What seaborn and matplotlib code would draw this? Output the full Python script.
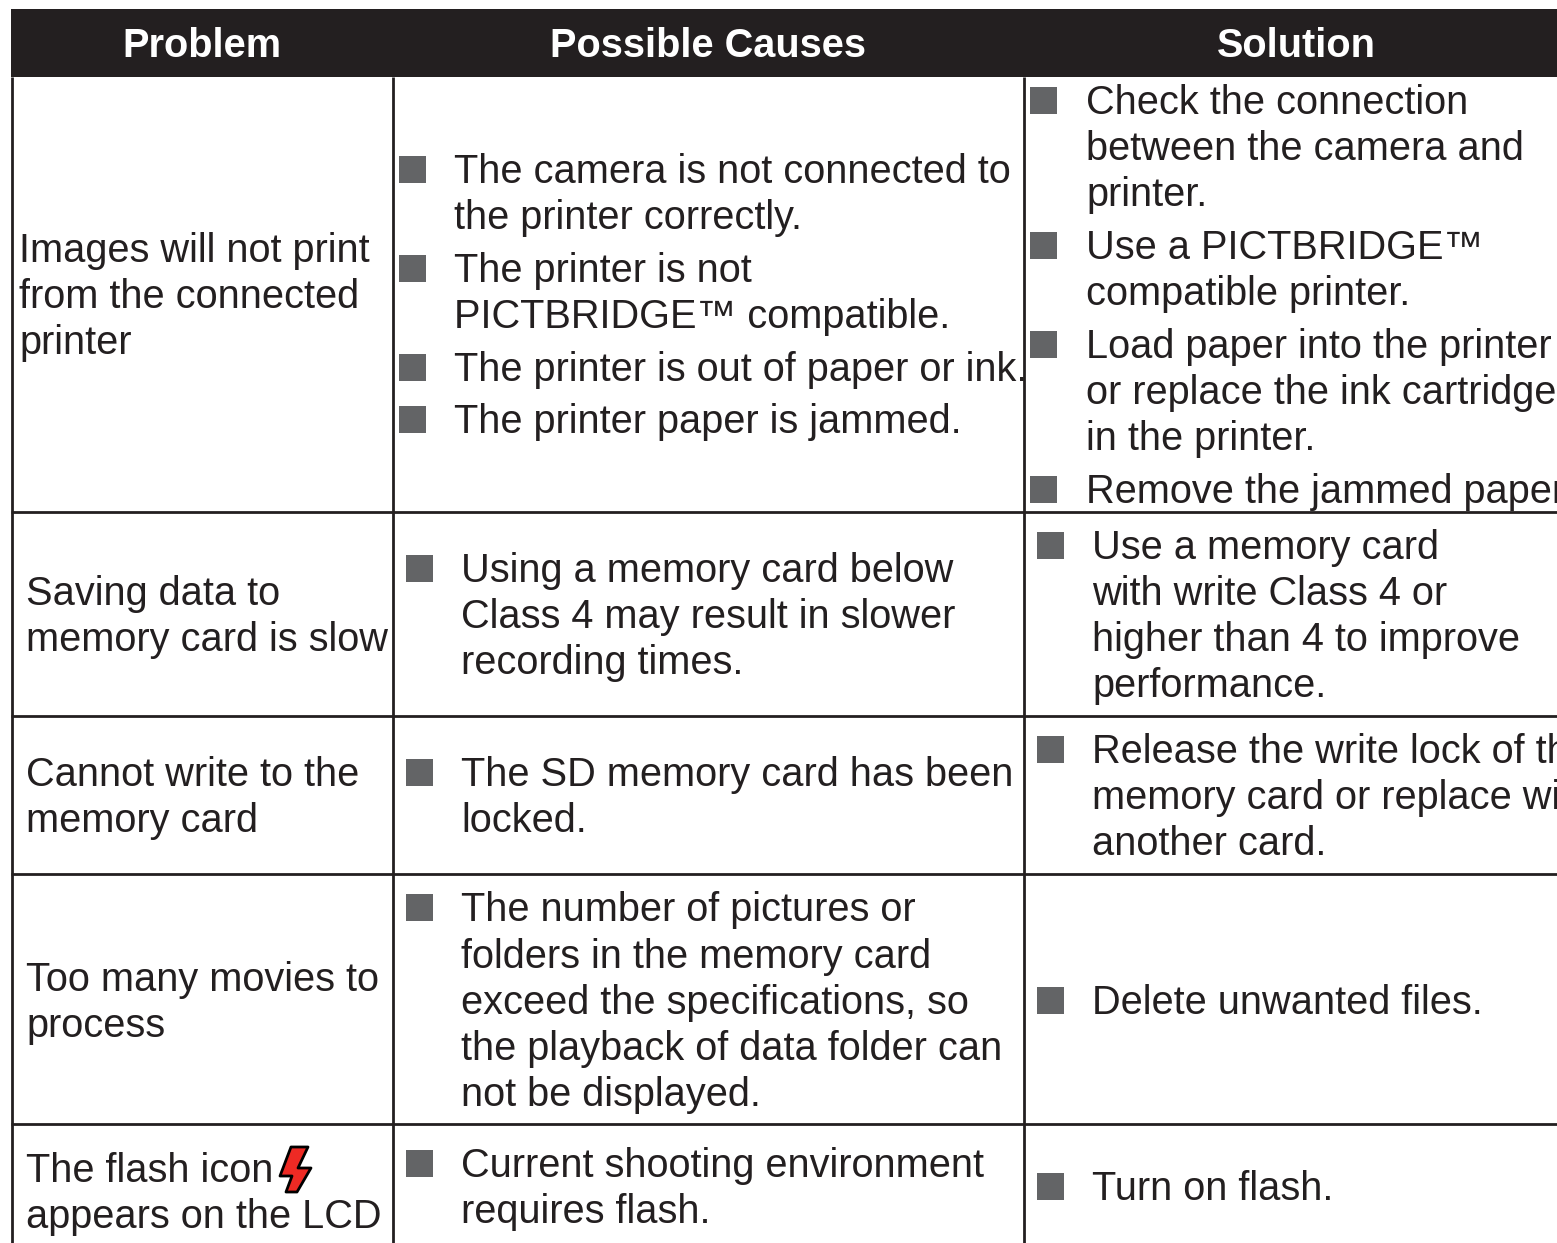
import matplotlib
matplotlib.use('Agg')
import matplotlib.pyplot as plt
import seaborn as sns

sns.set_theme(style='white')
plt.rcParams['font.family'] = ['Liberation Sans', 'DejaVu Sans']

INK = '#231f20'
BULLET = '#636466'
FONT_SIZE = 28.6

headers = ['Problem', 'Possible Causes', 'Solution']
header_x = [202, 708, 1296]

col_lines = [12, 393, 1024]
row_lines = [512, 716, 874, 1124]

# (text, line centre y) per problem cell
problems = [
    ('Images will not print', 249), ('from the connected', 295), ('printer', 341),
    ('Saving data to', 592), ('memory card is slow', 638),
    ('Cannot write to the', 773), ('memory card', 819),
    ('Too many movies to', 978), ('process', 1024),
    ('The flash icon', 1169), ('appears on the LCD', 1215),
]
problem_x = [19, 19, 19, 26, 26, 26, 26, 26, 26, 26, 26]

# each item: first line gets the bullet
causes = [
    [('The camera is not connected to', 170), ('the printer correctly.', 216)],
    [('The printer is not', 269), ('PICTBRIDGE™ compatible.', 315)],
    [('The printer is out of paper or ink.', 368)],
    [('The printer paper is jammed.', 420)],
    [('Using a memory card below', 569), ('Class 4 may result in slower', 615), ('recording times.', 661)],
    [('The SD memory card has been', 773), ('locked.', 819)],
    [('The number of pictures or', 908), ('folders in the memory card', 955),
     ('exceed the specifications, so', 1001), ('the playback of data folder can', 1047),
     ('not be displayed.', 1093)],
    [('Current shooting environment', 1164), ('requires flash.', 1210)],
]
cause_x = [(399, 454)] * 4 + [(406, 461)] * 4

solutions = [
    [('Check the connection', 101), ('between the camera and', 147), ('printer.', 193)],
    [('Use a PICTBRIDGE™', 246), ('compatible printer.', 292)],
    [('Load paper into the printer', 345), ('or replace the ink cartridge', 391), ('in the printer.', 437)],
    [('Remove the jammed paper.', 490)],
    [('Use a memory card', 546), ('with write Class 4 or', 592),
     ('higher than 4 to improve', 638), ('performance.', 684)],
    [('Release the write lock of the', 750), ('memory card or replace with', 796), ('another card.', 842)],
    [('Delete unwanted files.', 1001)],
    [('Turn on flash.', 1187)],
]
solution_x = [(1030, 1086)] * 4 + [(1037, 1092)] * 4

flash_x = [291, 308, 298, 311, 297, 286, 292, 280]
flash_y = [1147, 1147, 1168, 1168, 1192, 1192, 1176, 1176]


def draw_items(ax, items, xs):
    for item, (bx, tx) in zip(items, xs):
        cy = item[0][1]
        ax.add_patch(plt.Rectangle((bx, cy - 14), 27, 27, color=BULLET, lw=0))
        for txt, y in item:
            ax.text(tx, y + 13, txt, fontsize=FONT_SIZE, color=INK, va='baseline')


fig = plt.figure(figsize=(15.57, 12.43), dpi=100)
ax = fig.add_axes([0, 0, 1, 1])
ax.set_xlim(0, 1557)
ax.set_ylim(1243, 0)
ax.axis('off')

ax.add_patch(plt.Rectangle((11, 9), 1546, 68, color=INK, lw=0))
for h, x in zip(headers, header_x):
    ax.text(x, 57, h, fontsize=FONT_SIZE, fontweight='bold', color='white',
            ha='center', va='baseline')

for x in col_lines:
    ax.plot([x, x], [77, 1243], color=INK, lw=2.0, solid_capstyle='butt')
for y in row_lines:
    ax.plot([11, 1557], [y, y], color=INK, lw=2.0, solid_capstyle='butt')

for (txt, y), x in zip(problems, problem_x):
    ax.text(x, y + 13, txt, fontsize=FONT_SIZE, color=INK, va='baseline')

draw_items(ax, causes, cause_x)
draw_items(ax, solutions, solution_x)

ax.fill(flash_x, flash_y, facecolor='#ee2a24', edgecolor='black', lw=2.0, joinstyle='round')

fig.savefig('out.png', dpi=100)
plt.close()
